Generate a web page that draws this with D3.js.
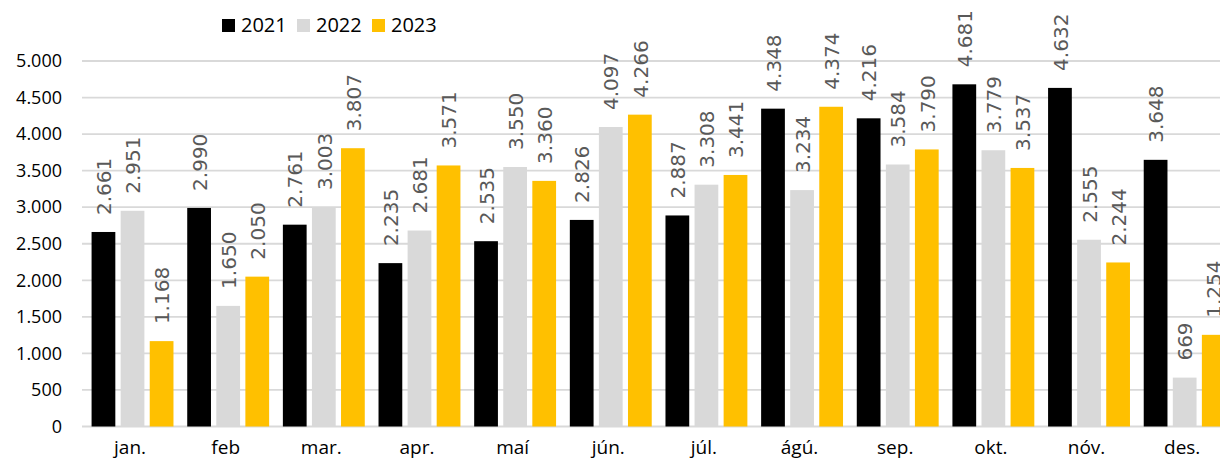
<!DOCTYPE html>
<html>
<head>
<meta charset="utf-8">
<script src="https://cdn.jsdelivr.net/npm/d3@7/dist/d3.min.js"></script>
<style>
  html, body { margin: 0; padding: 0; background: #fff; overflow: hidden; }
</style>
</head>
<body>
<svg id="chart" width="1220" height="466"></svg>
<script>
const categories = ["jan.", "feb", "mar.", "apr.", "maí", "jún.", "júl.", "ágú.", "sep.", "okt.", "nóv.", "des."];
const seriesNames = ["2021", "2022", "2023"];
const values2021 = [2661, 2990, 2761, 2235, 2535, 2826, 2887, 4348, 4216, 4681, 4632, 3648];
const values2022 = [2951, 1650, 3003, 2681, 3550, 4097, 3308, 3234, 3584, 3779, 2555, 669];
const values2023 = [1168, 2050, 3807, 3571, 3360, 4266, 3441, 4374, 3790, 3537, 2244, 1254];
const yTicks = [0, 500, 1000, 1500, 2000, 2500, 3000, 3500, 4000, 4500, 5000];
const colors = ["#000000", "#d9d9d9", "#ffc000"];

const series = [values2021, values2022, values2023];
const svg = d3.select("#chart");

const x = d3.scaleBand().domain(categories).range([82.2, 1230]).paddingInner(0).paddingOuter(0);
const y = d3.scaleLinear().domain([0, 5000]).range([426.5, 61]);
const xs = d3.scaleBand().domain(seriesNames).range([0, 3 * 27.3]).paddingInner(5 / 27.3).paddingOuter(0);
const groupOffset = (x.bandwidth() - (3 * 27.3 - 5)) / 2;

const fmt = v => d3.format(",")(v).replace(/,/g, ".");

// gridlines
svg.append("g")
  .selectAll("line")
  .data(yTicks)
  .join("line")
  .attr("x1", 82).attr("x2", 1220)
  .attr("y1", d => y(d)).attr("y2", d => y(d))
  .attr("stroke", "#d9d9d9").attr("stroke-width", 1.8);

// y axis labels
const yAxis = d3.axisLeft(y).tickValues(yTicks).tickFormat(fmt).tickSize(0).tickPadding(0);
const yg = svg.append("g").attr("transform", "translate(62,0)").call(yAxis);
yg.select(".domain").remove();
yg.selectAll("text")
  .attr("font-family", "'Open Sans', sans-serif")
  .attr("font-size", 18)
  .attr("fill", "#000");

// x axis labels
const xAxis = d3.axisBottom(x).tickSize(0).tickPadding(0);
const xg = svg.append("g").attr("transform", "translate(0,440)").call(xAxis);
xg.select(".domain").remove();
xg.selectAll("text")
  .attr("font-family", "'Open Sans', sans-serif")
  .attr("font-size", 19)
  .attr("fill", "#000");

// bars
series.forEach((vals, si) => {
  const g = svg.append("g");
  g.selectAll("rect")
    .data(vals)
    .join("rect")
    .attr("x", (d, i) => x(categories[i]) + groupOffset + xs(seriesNames[si]))
    .attr("width", xs.bandwidth())
    .attr("y", d => y(d))
    .attr("height", d => y(0) - y(d))
    .attr("fill", colors[si]);
  g.selectAll("text")
    .data(vals)
    .join("text")
    .attr("transform", (d, i) => {
      const cx = x(categories[i]) + groupOffset + xs(seriesNames[si]) + xs.bandwidth() / 2;
      return `translate(${cx + 0.5},${y(d) - 17}) rotate(-90)`;
    })
    .attr("dy", "0.36em")
    .attr("font-family", "'DejaVu Sans', sans-serif")
    .attr("font-size", 20)
    .attr("fill", "#595959")
    .text(d => fmt(d));
});

// legend
const legend = svg.append("g");
seriesNames.forEach((name, i) => {
  const lx = 222 + i * 75;
  legend.append("rect").attr("x", lx).attr("y", 19).attr("width", 13).attr("height", 13).attr("fill", colors[i]);
  legend.append("text").attr("x", lx + 19).attr("y", 32)
    .attr("font-family", "'Open Sans', sans-serif")
    .attr("font-size", 20).attr("fill", "#000").text(name);
});
</script>
</body>
</html>
